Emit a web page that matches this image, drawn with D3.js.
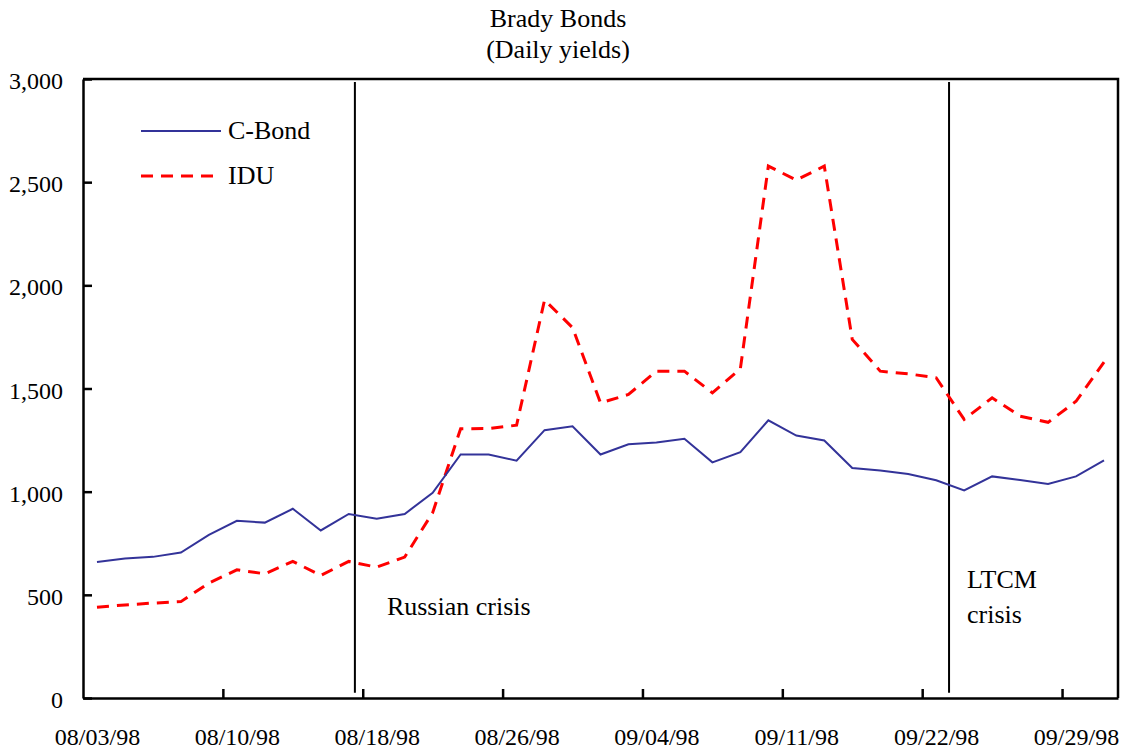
<!DOCTYPE html>
<html>
<head>
<meta charset="utf-8">
<script src="https://cdn.jsdelivr.net/npm/d3@7"></script>
<style>
  body { margin: 0; background: #fff; }
  svg { display: block; font-family: "Liberation Serif", "Times New Roman", serif; }
</style>
</head>
<body>
<div id="chart"></div>
<script>
// Brady bonds, daily yields (basis points), one value per trading day
const cBond = [659, 676, 684, 705, 791, 859, 850, 917, 812, 892, 869, 892, 994,
    1180, 1180, 1150, 1298, 1317, 1180, 1230, 1238, 1256, 1142, 1191, 1346, 1272,
    1248, 1115, 1103, 1086, 1055, 1006, 1074, 1057, 1037, 1074, 1152];
const idu = [440, 451, 460, 467, 557, 621, 602, 662, 594, 662, 634, 683, 898,
    1305, 1306, 1322, 1929, 1795, 1430, 1471, 1584, 1584, 1479, 1596, 2578, 2510,
    2578, 1738, 1584, 1571, 1552, 1350, 1455, 1366, 1336, 1438, 1628];

// category labels shown every 5 trading days
const tickLabels = ['08/03/98', '08/10/98', '08/18/98', '08/26/98',
    '09/04/98', '09/11/98', '09/22/98', '09/29/98'];
const tickStep = 5;
const yTicks = [0, 500, 1000, 1500, 2000, 2500, 3000];

// events, positioned in category units
const events = [
    { lines: ['Russian crisis'], at: 9.72 },
    { lines: ['LTCM', 'crisis'], at: 30.96 }
];

const width = 1126, height = 754;
const m = { left: 83, right: 1118, top: 79, bottom: 698 };
const n = cBond.length;
const serif = '"Liberation Serif", "Times New Roman", serif';

const svg = d3.select('#chart').append('svg')
    .attr('width', width)
    .attr('height', height);

const x = d3.scaleLinear().domain([0, n]).range([m.left, m.right]);
const y = d3.scaleLinear().domain([0, 3000]).range([m.bottom, m.top]);

// Title
svg.append('text').attr('x', 558).attr('y', 27).attr('text-anchor', 'middle')
    .style('font-size', '26px').text('Brady Bonds');
svg.append('text').attr('x', 558).attr('y', 58).attr('text-anchor', 'middle')
    .style('font-size', '26px').text('(Daily yields)');

// Frame (top and right)
svg.append('path')
    .attr('d', `M${m.left},${m.top}H${m.right}V${m.bottom}`)
    .attr('fill', 'none').attr('stroke', '#000').attr('stroke-width', 2.5);

// Y axis
const yAxis = svg.append('g')
    .attr('transform', `translate(${m.left},0)`)
    .call(d3.axisLeft(y).tickValues(yTicks).tickFormat(d3.format(','))
        .tickSizeInner(-9).tickSizeOuter(0).tickPadding(20));
yAxis.selectAll('text').attr('dy', '0.4em').style('font-size', '24px')
    .style('font-family', serif).attr('fill', '#000');

// X axis: ticks between categories, labels centred on categories
const tickIdx = tickLabels.map((d, i) => i * tickStep);
svg.append('g')
    .attr('transform', `translate(0,${m.bottom})`)
    .call(d3.axisBottom(x).tickValues(tickIdx.slice(1)).tickFormat('')
        .tickSizeInner(-9).tickSizeOuter(0));
svg.append('g')
    .attr('transform', `translate(0,${m.bottom})`)
    .call(d3.axisBottom(x).tickValues(tickIdx.map(i => i + 0.5))
        .tickFormat((d, i) => tickLabels[i]).tickSize(0).tickPadding(30))
    .call(g => g.select('.domain').remove())
    .selectAll('text').style('font-size', '24px')
    .style('font-family', serif).attr('fill', '#000');

svg.selectAll('.domain, .tick line').attr('stroke', '#000').attr('stroke-width', 2.5);

// Event markers
events.forEach(e => {
    const ex = x(e.at);
    svg.append('line')
        .attr('x1', ex).attr('x2', ex)
        .attr('y1', y(2985)).attr('y2', y(25))
        .attr('stroke', '#000').attr('stroke-width', 2);
    e.lines.forEach((t, i) => {
        svg.append('text')
            .attr('x', ex + (e.lines.length > 1 ? 18 : 32))
            .attr('y', (e.lines.length > 1 ? 588 : 615) + i * 35)
            .style('font-size', '26px')
            .text(t);
    });
});

// Series
const line = d3.line().x((d, i) => x(i + 0.5)).y(d => y(d));

svg.append('path').datum(idu)
    .attr('d', line)
    .attr('fill', 'none').attr('stroke', '#ff0000')
    .attr('stroke-width', 3).attr('stroke-dasharray', '12,8');

svg.append('path').datum(cBond)
    .attr('d', line)
    .attr('fill', 'none').attr('stroke', '#333399')
    .attr('stroke-width', 2);

// Legend
const legend = [
    { name: 'C-Bond', color: '#333399', w: 2, dash: null, y: 131 },
    { name: 'IDU', color: '#ff0000', w: 3, dash: '12,8', y: 176 }
];
legend.forEach(d => {
    svg.append('line').attr('x1', 141).attr('x2', 221).attr('y1', d.y).attr('y2', d.y)
        .attr('stroke', d.color).attr('stroke-width', d.w).attr('stroke-dasharray', d.dash);
    svg.append('text').attr('x', 228).attr('y', d.y + 8)
        .style('font-size', '26px').text(d.name);
});
</script>
</body>
</html>
